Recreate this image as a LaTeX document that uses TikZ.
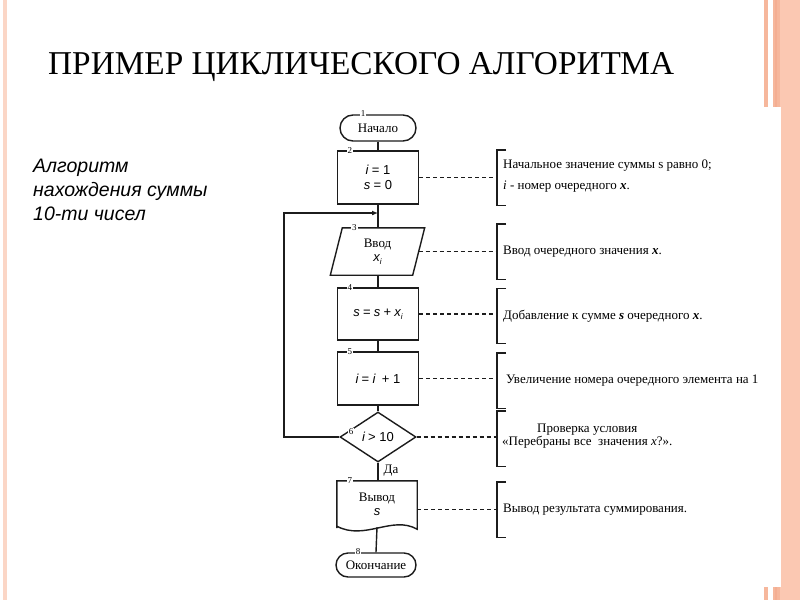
\documentclass[tikz,border=0pt]{standalone}
\usepackage{fontspec}
\setmainfont{Liberation Serif}
\newfontfamily\arialf{Liberation Sans}
\usetikzlibrary{shapes.geometric,shapes.misc,arrows.meta}
\definecolor{ink}{HTML}{1C1C1C}
\definecolor{stripeA}{HTML}{FBD6C6}
\definecolor{stripeB}{HTML}{F6B79C}
\definecolor{stripeC}{HTML}{FBC8B2}
\definecolor{stripeD}{HTML}{F4AE92}
\newcommand{\fsz}[1]{\fontsize{#1}{#1}\selectfont}
\newcommand{\myxi}{{\arialf\itshape x\raisebox{-2.5pt}{\fsz{8}i}}}
\begin{document}
\begin{tikzpicture}[x=1pt,y=-1pt,
  flow/.style={draw=ink,line width=1.4pt},
  boxnode/.style={flow,rectangle,minimum width=81,minimum height=53,inner sep=0,align=center,font=\fsz{13}},
  plain/.style={rectangle,inner sep=0,align=center,font=\fsz{13}},
  termnode/.style={flow,rounded rectangle,inner sep=0,font=\fsz{13}},
  decnode/.style={flow,diamond,minimum width=76,minimum height=50,inner sep=0,font=\fsz{13}},
  num/.style={fill=white,inner sep=1pt,font=\fsz{9}},
  brk/.style={rectangle,minimum width=0,minimum height=55,inner sep=0},
  note/.style={anchor=west,inner sep=0,align=left,font=\fsz{13}},
  dashline/.style={draw=ink,line width=1.2pt,dash pattern=on 4pt off 3pt},
  brkline/.style={draw=ink,line width=1.4pt}
]
\useasboundingbox (0,0) rectangle (800,600);
% decorations of the slide
\fill[stripeA] (3,0) rectangle (7,600);
\fill[stripeB] (764,0) rectangle (768,600);
\fill[stripeB] (773,0) rectangle (800,600);
\fill[stripeC] (780,0) rectangle (800,600);
\fill[stripeD] (775,0) rectangle (777,600);
\fill[white] (260,107) rectangle (781,587);
% title
\node[anchor=base west,inner sep=0,font=\fsz{33.3}] (title) at (48,74) {ПРИМЕР ЦИКЛИЧЕСКОГО АЛГОРИТМА};
\node[anchor=base west,inner sep=0,align=left,font=\arialf\itshape\fsz{19.5}] (side) at (33,220)
  {Алгоритм\\[4.5pt]нахождения суммы\\[4.5pt]10-ти чисел};
% flowchart nodes
\node[termnode,minimum width=76,minimum height=26] (n1) at (378,128) {Начало};
\node[boxnode] (n2) at (378,177.5) {{\arialf\itshape i} {\arialf= 1}\\[2pt]{\arialf\itshape s} {\arialf= 0}};
\node[plain,minimum width=94,minimum height=47] (n3) at (377.5,251.5) {Ввод\\[1pt]\myxi};
\draw[flow] ([xshift=12pt]n3.north west) -- (n3.north east) -- ([xshift=-12pt]n3.south east) -- (n3.south west) -- cycle;
\node[boxnode,minimum height=52] (n4) at (378,314) {{\arialf\itshape s} {\arialf=} {\arialf\itshape s} {\arialf+} \myxi};
\node[boxnode] (n5) at (378,378.5) {{\arialf\itshape i} {\arialf=} {\arialf\itshape i}\ \ {\arialf+ 1}};
\node[decnode] (n6) at (378,437) {{\arialf\itshape i} {\arialf> 10}};
\node[plain,minimum width=80,minimum height=47] (n7) at (377,504.5) {Вывод\\[1pt]{\arialf\itshape s}};
\draw[flow] (n7.south west) -- (n7.north west) -- (n7.north east) -- ([yshift=-1pt]n7.south east)
  .. controls (392,515) and (365,541) .. ([yshift=2pt]n7.south west) -- cycle;
\node[termnode,minimum width=80,minimum height=24] (n8) at (376,565) {Окончание};
% numbers
\node[num] at ([xshift=10pt,yshift=1pt]n1.north west) {1};
\node[num] at ([xshift=13pt]n2.north west) {2};
\node[num] at ([xshift=24pt]n3.north west) {3};
\node[num] at ([xshift=13pt]n4.north west) {4};
\node[num] at ([xshift=13pt]n5.north west) {5};
\node[num] at ([xshift=-27pt,yshift=5pt]n6.center) {6};
\node[num] at ([xshift=13pt]n7.north west) {7};
\node[num] at ([xshift=10pt,yshift=1pt]n8.north west) {8};
% connectors
\draw[flow] (n1.south) -- (n2.north);
\coordinate (j) at (378,213);
\coordinate (lp) at (284,213);
\draw[flow] (n2.south) -- (n3.north -| n2.south);
\draw[flow] (n3.south -| n4.north) -- (n4.north);
\draw[flow] (n4.south) -- (n5.north);
\draw[flow] (n5.south) -- (n6.north);
\draw[flow] (n6.south) -- (n7.north -| n6.south) node[pos=0.45,right=5pt,font=\fsz{13},inner sep=0] (da) {Да};
\draw[flow] ([yshift=1pt]n7.south) -- (n8.north);
\draw[flow,-{Latex[length=6pt,width=5pt]}] (n6.west) -| (lp) -- (j);
% annotation brackets
\node[brk] (a1) at (497,177.5) {};
\node[brk] (a2) at (497,251.5) {};
\node[brk] (a3) at (497,316) {};
\node[brk] (a4) at (497,380.5) {};
\node[brk] (a5) at (497,438.5) {};
\node[brk] (a6) at (497,509.5) {};
\foreach \a in {a1,a2,a3,a4,a5,a6}{
  \draw[brkline] ([xshift=9pt]\a.north) -- (\a.north) -- (\a.south) -- ([xshift=9pt]\a.south);
}
\draw[dashline] (n2.east) -- (n2.east -| a1.center);
\draw[dashline] ([xshift=-6pt]n3.east) -- (n3.east -| a2.center);
\draw[dashline] (n4.east) -- (n4.east -| a3.center);
\draw[dashline] (n5.east) -- (n5.east -| a4.center);
\draw[dashline] (n6.east) -- (n6.east -| a5.center);
\draw[dashline] ([yshift=-5pt]n7.east) -- ([yshift=-5pt]n7.east -| a6.center);
\node[note] (t1) at ([xshift=6pt,yshift=1pt]a1.center) {Начальное значение суммы s равно 0;\\[8pt]\textit{i} - номер очередного \textbf{\textit{x}}.};
\node[note] (t2) at ([xshift=6pt]a2.center) {Ввод очередного значения \textbf{\textit{x}}.};
\node[note] (t3) at ([xshift=6pt]a3.center) {Добавление к сумме \textbf{\textit{s}} очередного \textbf{\textit{x}}.};
\node[note] (t4) at ([xshift=9pt]a4.center) {Увеличение номера очередного элемента на 1};
\node[note,align=center] (t5) at ([xshift=5pt,yshift=2pt]a5.center) {Проверка условия\\«Перебраны все\ \ значения \textit{x}?».};
\node[note] (t6) at ([xshift=6pt]a6.center) {Вывод результата суммирования.};
\end{tikzpicture}
\end{document}
